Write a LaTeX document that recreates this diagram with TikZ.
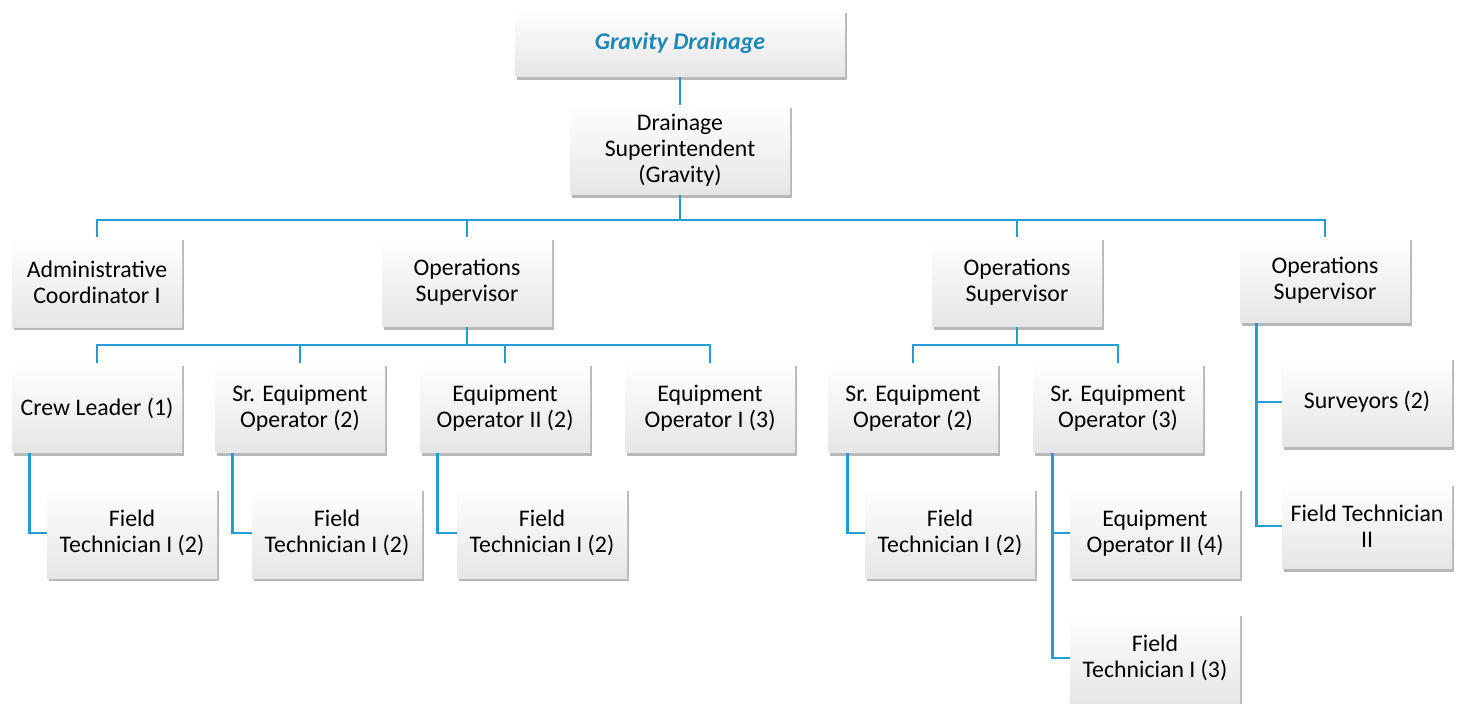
\documentclass[tikz,border=0pt]{standalone}
\usepackage{fontspec}
\setmainfont{Carlito}
\usetikzlibrary{shadows,calc}
\definecolor{linec}{HTML}{239DD3}
\definecolor{titlec}{HTML}{1E88B6}
\tikzset{
  box/.style={top color=white, bottom color=black!10, draw=none,
    drop shadow={shadow xshift=1.2pt, shadow yshift=-1.5pt, opacity=0.28, fill=black},
    minimum width=85pt, minimum height=45pt, inner sep=1pt, align=center,
    font=\fontsize{11.9}{13}\selectfont},
  conn/.style={draw=linec, line width=1.25pt}
}
\begin{document}
\begin{tikzpicture}[x=0.5pt,y=-0.5pt]
\useasboundingbox (0,0) rectangle (1465,704);
\node[box, minimum width=165pt, minimum height=33.5pt, text=titlec, font=\fontsize{12}{13}\selectfont\bfseries\itshape] (top) at (680,43.5) {Gravity Drainage};
\node[box, minimum width=110pt] (sup) at (680,150) {Drainage\\Superintendent\\(Gravity)};
\node[box] (admin) at (97,282.5) {Administrative\\Coordinator I};
\node[box] (ops1) at (467,282) {Operations\\Supervisor};
\node[box] (ops2) at (1017,282) {Operations\\Supervisor};
\node[box, minimum height=43pt] (ops3) at (1325,280) {Operations\\Supervisor};
\node[box] (crew) at (97,408) {Crew Leader (1)};
\node[box] (sreqa) at (300,408) {Sr. Equipment\\Operator (2)};
\node[box] (eqii) at (505,408) {Equipment\\Operator II (2)};
\node[box] (eqi) at (710,408) {Equipment\\Operator I (3)};
\node[box] (sreqb) at (913,408) {Sr. Equipment\\Operator (2)};
\node[box] (sreqc) at (1118,408) {Sr. Equipment\\Operator (3)};
\node[box] (fta) at (132,533) {Field\\Technician I (2)};
\node[box] (ftb) at (337,533) {Field\\Technician I (2)};
\node[box] (ftc) at (542,533) {Field\\Technician I (2)};
\node[box] (ftd) at (950,533) {Field\\Technician I (2)};
\node[box] (eqiv) at (1155,533) {Equipment\\Operator II (4)};
\node[box] (fte) at (1155,658) {Field\\Technician I (3)};
\node[box] (surv) at (1367,402) {Surveyors (2)};
\node[box, minimum height=42.5pt] (ftii) at (1367,526) {Field Technician\\II};
% connectors
\draw[conn] (top.south) -- (sup.north);
\coordinate (busa) at (680,220);
\draw[conn] (sup.south) -- (busa);
\draw[conn] (busa) -| (admin.north);
\draw[conn] (busa) -| (ops1.north);
\draw[conn] (busa) -| (ops2.north);
\draw[conn] (busa) -| (ops3.north);
\coordinate (busb) at (467,345);
\draw[conn] (ops1.south) -- (busb);
\draw[conn] (busb) -| (crew.north);
\draw[conn] (busb) -| (sreqa.north);
\draw[conn] (busb) -| (eqii.north);
\draw[conn] (busb) -| (eqi.north);
\coordinate (busc) at (1017,345);
\draw[conn] (ops2.south) -- (busc);
\draw[conn] (busc) -| (sreqb.north);
\draw[conn] (busc) -| (sreqc.north);
\draw[conn] ($(ops3.south west)+(17,0)$) |- (ftii.west);
\draw[conn] ($(ops3.south west)+(17,0)$) |- (surv.west);
\draw[conn] ($(crew.south west)+(18,0)$) |- (fta.west);
\draw[conn] ($(sreqa.south west)+(18,0)$) |- (ftb.west);
\draw[conn] ($(eqii.south west)+(18,0)$) |- (ftc.west);
\draw[conn] ($(sreqb.south west)+(20,0)$) |- (ftd.west);
\draw[conn] ($(sreqc.south west)+(20,0)$) |- (fte.west);
\draw[conn] ($(sreqc.south west)+(20,0)$) |- (eqiv.west);
\end{tikzpicture}
\end{document}
